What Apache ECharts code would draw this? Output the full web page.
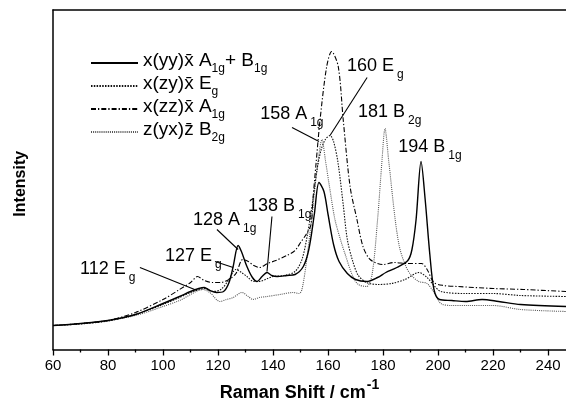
<!DOCTYPE html>
<html>
<head>
<meta charset="utf-8">
<script src="https://cdn.jsdelivr.net/npm/echarts@6/dist/echarts.min.js"></script>
<style>
  html, body { margin: 0; padding: 0; background: #fff; }
  #chart { width: 566px; height: 404px; }
</style>
</head>
<body>
<div id="chart"></div>
<script>
// Polarised Raman spectra: [Raman shift (cm^-1), intensity (arb. units)]
const spectrumYY = [
  [60, 24], [70, 26], [80, 29], [90, 35], [100, 46], [106, 53], [110, 58], [113, 61], [115, 62],
  [117, 59], [119.5, 57], [122, 58], [124, 67], [125.5, 83], [127.3, 104], [128.5, 98], [130.5, 83],
  [132.5, 72], [134.2, 68], [136, 73], [137.8, 77], [139.5, 74], [141.5, 73], [145, 74], [148, 75],
  [151, 83], [153, 100], [155, 135], [156.7, 167], [158.5, 158], [160, 135], [162, 105], [164, 88],
  [167, 76], [170, 70], [174, 68], [178, 72], [181, 77], [185, 82], [189, 89], [190.5, 100],
  [192, 130], [193.8, 188], [195.3, 150], [197, 95], [198.5, 60], [200.5, 50], [205, 49],
  [210, 48], [216, 50], [222, 48], [230, 45], [246.5, 43]
];
const spectrumZY = [
  [60, 24], [70, 25.5], [80, 28.5], [90, 35], [100, 45], [106, 52], [110, 57], [113, 60], [115.5, 61],
  [118, 58], [121, 60], [123.5, 68], [126.5, 80], [128.5, 77], [130.5, 73], [133, 68], [135, 68],
  [138, 71], [140, 73], [144, 74], [148, 78], [150.5, 90], [152.5, 115], [154.5, 150], [156, 180],
  [157.5, 200], [159, 210], [160.7, 214], [162, 208], [163.6, 187], [165.5, 145], [167, 110],
  [169, 88], [171, 74], [174, 67], [178, 65], [183, 66], [188, 70], [193, 77], [196, 72],
  [198.5, 64], [201, 58], [210, 56], [220, 56], [230, 54], [246.5, 53]
];
const spectrumZZ = [
  [60, 24], [70, 26], [80, 29], [90, 37], [100, 50], [106, 60], [110, 67], [112.5, 73], [115, 69],
  [118, 67], [121, 67], [124, 70], [126.5, 76], [129, 90], [131, 88], [133, 84], [135, 82], [138, 86],
  [141, 89], [145, 94], [148, 99], [150, 107], [152, 115], [153.8, 125], [154.5, 150], [155.6, 185],
  [157.1, 230], [159.5, 283], [161.3, 298], [163.7, 283], [165.5, 230], [168, 163], [170.5, 130],
  [172.7, 103], [175.3, 90], [180, 85], [184, 87], [189, 86], [194, 86], [196, 80], [198.5, 67],
  [202, 64], [207, 63], [220, 61], [231, 60], [246.5, 58]
];
const spectrumYX = [
  [60, 24], [70, 26], [80, 29], [90, 34], [100, 43], [106, 49], [110, 55], [112, 58], [114.5, 60],
  [117, 57], [120.7, 48], [123, 50], [125.5, 52], [128.7, 57], [131, 53], [132.7, 50], [135, 52],
  [137.8, 53], [142.5, 55], [147.3, 57], [149.5, 56], [150.5, 60], [152, 85], [154, 130], [156, 180],
  [157.8, 210], [159, 190], [160.5, 163], [162.5, 130], [164.5, 110], [166, 97], [169, 73], [171, 65],
  [174, 63], [176, 75], [178, 130], [179.5, 185], [180.7, 221], [182, 190], [184.4, 130], [186, 102],
  [188, 85], [190, 75], [193, 68], [196, 66], [198.5, 57], [201, 46], [205, 44], [210, 44],
  [220, 44], [230, 40], [246.5, 38]
];

// Legend entries: [main text, subscript, main text, subscript]
const legendNames = [
  ['x(yy)x\u0304 A', '1g', '+ B', '1g'],
  ['x(zy)x\u0304 E', 'g'],
  ['x(zz)x\u0304 A', '1g'],
  ['z(yx)z\u0304 B', '2g']
];

// Axis ticks
const majorTicks = [60, 80, 100, 120, 140, 160, 180, 200, 220, 240];
const minorTicks = [70, 90, 110, 130, 150, 170, 190, 210, 230];

// Peak assignments: label, subscript, label anchor, optional leader line
const peakLabels = [
  { text: '112 E', sub: 'g',  at: [69.8, 80],   leader: [[91.6, 82], [112.4, 59]] },
  { text: '127 E', sub: 'g',  at: [100.7, 93],  leader: [[118.9, 88], [125.5, 82]] },
  { text: '128 A', sub: '1g', at: [110.9, 129], leader: [[119.6, 120], [127.3, 100]] },
  { text: '138 B', sub: '1g', at: [130.9, 143], leader: [[139.6, 133], [137.8, 78]] },
  { text: '158 A', sub: '1g', at: [135.3, 235], leader: [[146.9, 222], [156.7, 208]] },
  { text: '160 E', sub: 'g',  at: [166.9, 283], leader: [[174.2, 272], [160.7, 214]] },
  { text: '181 B', sub: '2g', at: [170.9, 237], leader: null },
  { text: '194 B', sub: '1g', at: [185.5, 202], leader: null }
];

const FONT = '"Liberation Sans", Arial, Helvetica, sans-serif';

function scriptText(parts) {
  let s = '';
  parts.forEach((p, i) => { s += (i % 2 === 0 ? '{t|' : '{s|') + p + '}'; });
  return s;
}

const seriesStyles = [
  { color: '#000', width: 1.4, type: 'solid' },
  { color: '#111', width: 1.1, type: [1.5, 1.3] },
  { color: '#000', width: 1.1, type: [5, 2, 1.3, 2] },
  { color: '#555', width: 1.1, type: [1, 1.1] }
];
const spectra = [spectrumYY, spectrumZY, spectrumZZ, spectrumYX];

const chart = echarts.init(document.getElementById('chart'), null, { renderer: 'canvas' });

const option = {
  animation: false,
  backgroundColor: '#fff',
  grid: { left: 53, right: 0, top: 10, bottom: 54.5, containLabel: false, outerBoundsMode: 'none' },
  legend: {
    orient: 'vertical',
    left: 85,
    top: 46,
    itemWidth: 47,
    itemHeight: 14,
    itemGap: -1,
    selectedMode: false,
    itemStyle: { opacity: 0, borderWidth: 0 },
    data: legendNames.map((_, i) => 'ser' + i),
    formatter: name => scriptText(legendNames[+name.slice(3)]),
    textStyle: {
      fontFamily: FONT,
      color: '#000',
      rich: {
        t: { fontSize: 19, fontFamily: FONT, color: '#000', verticalAlign: 'bottom', padding: [0, 0, 5, 0] },
        s: { fontSize: 12, fontFamily: FONT, color: '#000', verticalAlign: 'bottom' }
      }
    }
  },
  xAxis: [
    {
      type: 'value', min: 60, max: 246.5, interval: 20,
      name: '{b|Raman Shift / cm}{p|-1}',
      nameLocation: 'middle',
      nameGap: 19,
      nameTextStyle: {
        padding: [0, 20, 0, 0],
        rich: {
          b: { fontSize: 18, fontWeight: 'bold', fontFamily: FONT, color: '#000', verticalAlign: 'bottom' },
          p: { fontSize: 14, fontWeight: 'bold', fontFamily: FONT, color: '#000', verticalAlign: 'bottom', padding: [0, 0, 10, 1] }
        }
      },
      axisLine: { show: true, onZero: false, lineStyle: { color: '#000', width: 1.5 } },
      axisTick: { show: true, inside: false, length: 6, customValues: majorTicks, lineStyle: { color: '#000', width: 1.3 } },
      axisLabel: { show: true, margin: 9, fontSize: 15, fontFamily: FONT, color: '#000', customValues: majorTicks },
      splitLine: { show: false }
    },
    {
      type: 'value', min: 60, max: 246.5, position: 'bottom',
      axisLine: { show: false },
      axisTick: { show: true, inside: false, length: 3, customValues: minorTicks, lineStyle: { color: '#000', width: 1.3 } },
      axisLabel: { show: false },
      splitLine: { show: false }
    },
    {
      type: 'value', min: 60, max: 246.5, position: 'top',
      axisLine: { show: true, onZero: false, lineStyle: { color: '#000', width: 1.5 } },
      axisTick: { show: false },
      axisLabel: { show: false },
      splitLine: { show: false }
    }
  ],
  yAxis: {
    type: 'value', min: 0, max: 339.5,
    name: 'Intensity',
    nameLocation: 'middle',
    nameRotate: 90,
    nameGap: 24,
    nameTextStyle: { fontSize: 16, fontWeight: 'bold', fontFamily: FONT, color: '#000', padding: [0, 8, 0, 0] },
    axisLine: { show: true, onZero: false, lineStyle: { color: '#000', width: 1.5 } },
    axisTick: { show: false },
    axisLabel: { show: false },
    splitLine: { show: false }
  },
  series: spectra.map((data, i) => ({
    name: 'ser' + i,
    type: 'line',
    xAxisIndex: 0,
    data: data,
    smooth: 0.3,
    symbol: 'none',
    showSymbol: false,
    color: seriesStyles[i].color,
    lineStyle: seriesStyles[i],
    emphasis: { disabled: true },
    z: 4 - i
  }))
};

chart.setOption(option);

// Peak assignment labels and leader lines, positioned in data coordinates
const toPx = p => chart.convertToPixel({ xAxisIndex: 0, yAxisIndex: 0 }, p);
const graphics = [];
peakLabels.forEach(lbl => {
  const p = toPx(lbl.at);
  graphics.push({
    type: 'text',
    x: p[0],
    y: p[1] - 9,
    z: 10,
    style: {
      text: '{t|' + lbl.text + '}{s|' + lbl.sub + '}',
      fill: '#000',
      verticalAlign: 'top',
      align: 'left',
      rich: {
        t: { fontSize: 18, fontFamily: FONT, fill: '#000', verticalAlign: 'bottom', padding: [0, 0, 5, 0] },
        s: { fontSize: 12, fontFamily: FONT, fill: '#000', verticalAlign: 'bottom', padding: [0, 0, 0, 3] }
      }
    }
  });
  if (lbl.leader) {
    const a = toPx(lbl.leader[0]);
    const b = toPx(lbl.leader[1]);
    graphics.push({
      type: 'line',
      z: 10,
      shape: { x1: a[0], y1: a[1], x2: b[0], y2: b[1] },
      style: { stroke: '#000', lineWidth: 1.1 }
    });
  }
});
chart.setOption({ graphic: graphics });
</script>
</body>
</html>
